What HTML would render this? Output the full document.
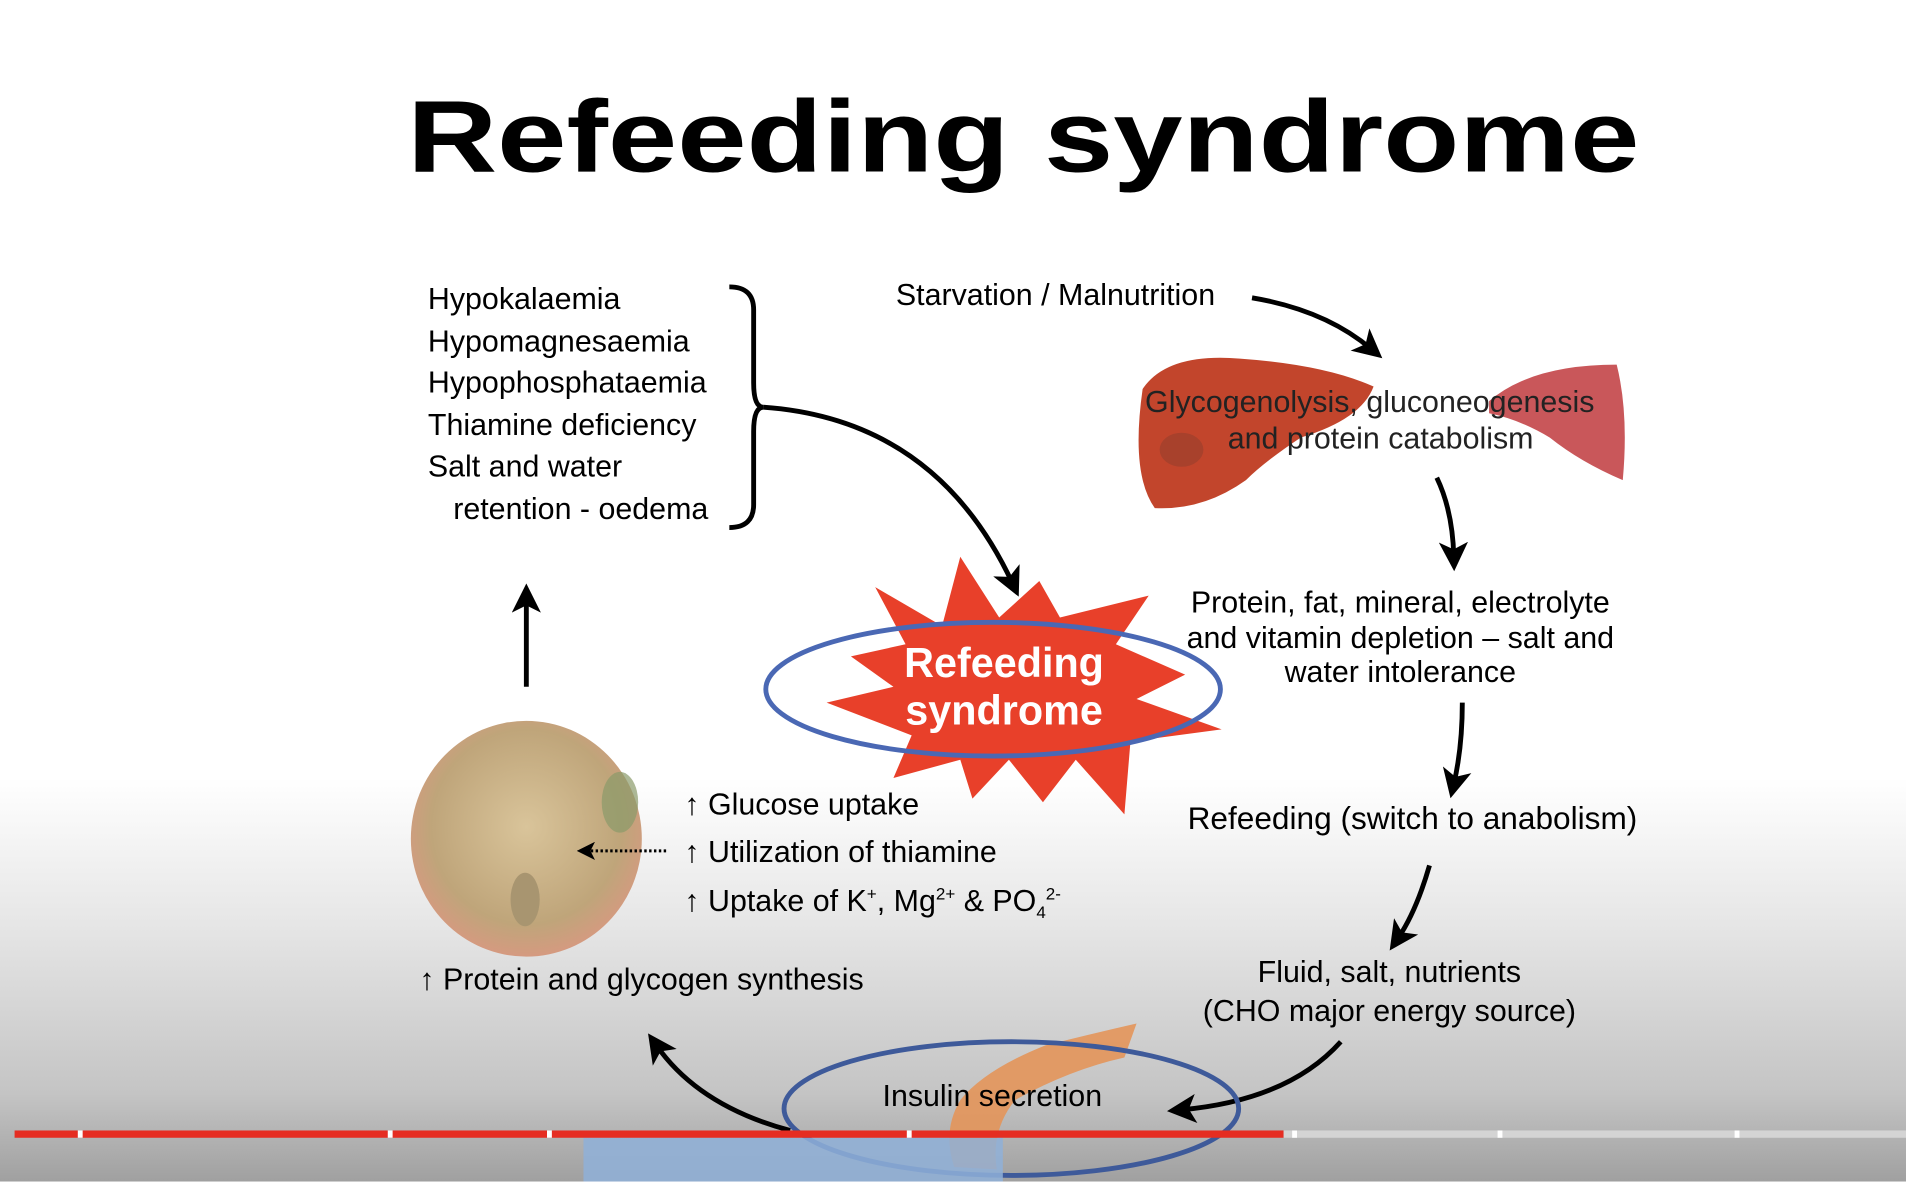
<!DOCTYPE html>
<html><head><meta charset="utf-8"><style>
html,body{margin:0;padding:0;width:1906px;height:1182px;overflow:hidden;background:#fff;}
#s{position:absolute;left:0;top:0;width:1568px;height:972px;transform:scale(1.21556);transform-origin:0 0;
background:linear-gradient(to bottom,#fff 0,#fff 640px,#e6e6e6 760px,#c4c4c4 900px,#a0a0a0 972px);
font-family:"Liberation Sans",Arial,sans-serif;color:#000;}
.t{position:absolute;white-space:nowrap;font-size:26px;line-height:1;}
</style></head><body><div id="s">
<div class="t" style="left:335px;top:70px;font-size:84px;font-weight:bold;transform:scaleX(1.22);transform-origin:0 0;">Refeeding syndrome</div>
<div class="t" style="left:352px;top:229px;line-height:34.5px;font-size:25px;">Hypokalaemia<br>Hypomagnesaemia<br>Hypophosphataemia<br>Thiamine deficiency<br>Salt and water<br>&nbsp;&nbsp;&nbsp;retention - oedema</div>
<div class="t" style="left:737px;top:231px;font-size:25px;">Starvation / Malnutrition</div>
<svg width="1568" height="972" style="position:absolute;left:0;top:0">
<defs><marker id="a" markerWidth="6" markerHeight="6" refX="3" refY="3" orient="auto"><path d="M0,0 L6,3 L0,6 L1.5,3z" fill="#000"/></marker></defs>
<path d="M940,320 Q960,290 1020,295 Q1090,300 1130,318 Q1120,345 1070,360 Q1040,380 1025,395 Q990,420 950,418 Q930,390 940,320z" fill="#c2452c"/>
<ellipse cx="972" cy="370" rx="18" ry="14" fill="#a8412c"/>
<path d="M1225,330 Q1260,300 1330,300 Q1340,340 1335,395 Q1300,380 1275,360 Q1250,345 1225,340z" fill="#c9575a"/>
<path d="M600,236 Q620,236 620,255 L620,315 Q620,335 628,335 Q620,335 620,355 L620,415 Q620,434 600,434" fill="none" stroke="#000" stroke-width="4"/>
<path d="M628,335 Q770,345 833,480" fill="none" stroke="#000" stroke-width="4" marker-end="url(#a)"/>
<path d="M1030,245 Q1090,255 1128,287" fill="none" stroke="#000" stroke-width="4" marker-end="url(#a)"/>
<path d="M1182,393 Q1195,420 1196,458" fill="none" stroke="#000" stroke-width="4" marker-end="url(#a)"/>
<path d="M1203,578 Q1203,615 1196,645" fill="none" stroke="#000" stroke-width="4" marker-end="url(#a)"/>
<path d="M1176,712 Q1165,750 1150,772" fill="none" stroke="#000" stroke-width="4" marker-end="url(#a)"/>
<path d="M1103,857 Q1060,905 972,913" fill="none" stroke="#000" stroke-width="4" marker-end="url(#a)"/>
<path d="M650,930 Q575,910 540,860" fill="none" stroke="#000" stroke-width="4" marker-end="url(#a)"/>
<line x1="433" y1="565" x2="433" y2="492" stroke="#000" stroke-width="4" marker-end="url(#a)"/>
<polygon points="720,483 775,515 790,458 822,508 855,478 872,508 945,490 918,530 975,555 935,575 1005,600 930,610 925,670 885,625 858,660 830,625 800,657 790,625 735,640 750,605 680,578 735,565 700,540 745,530" fill="#e8402a"/>
<ellipse cx="817" cy="567" rx="187" ry="55" fill="none" stroke="#4a68b4" stroke-width="4"/>
<radialGradient id="c" cx="50%" cy="45%" r="55%"><stop offset="0" stop-color="#d9c49a"/><stop offset="0.75" stop-color="#bfa57a"/><stop offset="1" stop-color="#d59a80"/></radialGradient>
<ellipse cx="433" cy="690" rx="95" ry="97" fill="url(#c)"/>
<ellipse cx="510" cy="660" rx="15" ry="25" fill="#8a9a6a" opacity=".7"/>
<ellipse cx="432" cy="740" rx="12" ry="22" fill="#a89570"/>
<line x1="548" y1="700" x2="482" y2="700" stroke="#000" stroke-width="2.5" stroke-dasharray="2,2" marker-end="url(#a)"/>
<path d="M935,842 Q900,850 860,860 Q810,880 790,905 Q775,930 785,960 L820,962 Q815,930 835,905 Q880,880 925,870z" fill="#e3955a" opacity=".9"/>
<ellipse cx="832" cy="912" rx="187" ry="55" fill="none" stroke="#3e5a9a" stroke-width="4"/>
<rect x="480" y="936" width="345" height="36" fill="#8fb0d8" opacity=".85"/>
<rect x="12" y="930" width="1044" height="6" fill="#e52d22"/>
<rect x="1056" y="930" width="512" height="6" fill="#d4d4d4"/>
<g fill="#fff"><rect x="64" y="930" width="4" height="6"/><rect x="319" y="930" width="4" height="6"/><rect x="450" y="930" width="4" height="6"/><rect x="746" y="930" width="4" height="6"/><rect x="1063" y="930" width="4" height="6"/><rect x="1232" y="930" width="4" height="6"/><rect x="1427" y="930" width="4" height="6"/></g>
</svg>
<div class="t" style="left:942px;top:319px;color:#222;font-size:25px;">Glycogenolysis, gluconeogenesis</div>
<div class="t" style="left:1010px;top:349px;color:#222;font-size:25px;">and protein catabolism</div>
<div class="t" style="left:956px;top:482px;text-align:center;line-height:28.5px;width:392px;font-size:25px;">Protein, fat, mineral, electrolyte<br>and vitamin depletion – salt and<br>water intolerance</div>
<div class="t" style="left:977px;top:660px;">Refeeding (switch to anabolism)</div>
<div class="t" style="left:972px;top:784px;text-align:center;width:342px;line-height:32px;font-size:25px;">Fluid, salt, nutrients<br>(CHO major energy source)</div>
<div class="t" style="left:726px;top:890px;font-size:25px;">Insulin secretion</div>
<div class="t" style="left:345px;top:794px;font-size:25px;">↑ Protein and glycogen synthesis</div>
<div class="t" style="left:563px;top:650px;font-size:25px;">↑ Glucose uptake</div>
<div class="t" style="left:563px;top:689px;font-size:25px;">↑ Utilization of thiamine</div>
<div class="t" style="left:563px;top:728px;font-size:25px;">↑ Uptake of K<sup style="font-size:14px">+</sup>, Mg<sup style="font-size:14px">2+</sup> &amp; PO<sub style="font-size:14px">4</sub><sup style="font-size:14px">2-</sup></div>
<div class="t" style="left:730px;top:527px;width:192px;text-align:center;color:#fff;font-weight:bold;font-size:34px;line-height:39px;">Refeeding<br>syndrome</div>
</div></body></html>
